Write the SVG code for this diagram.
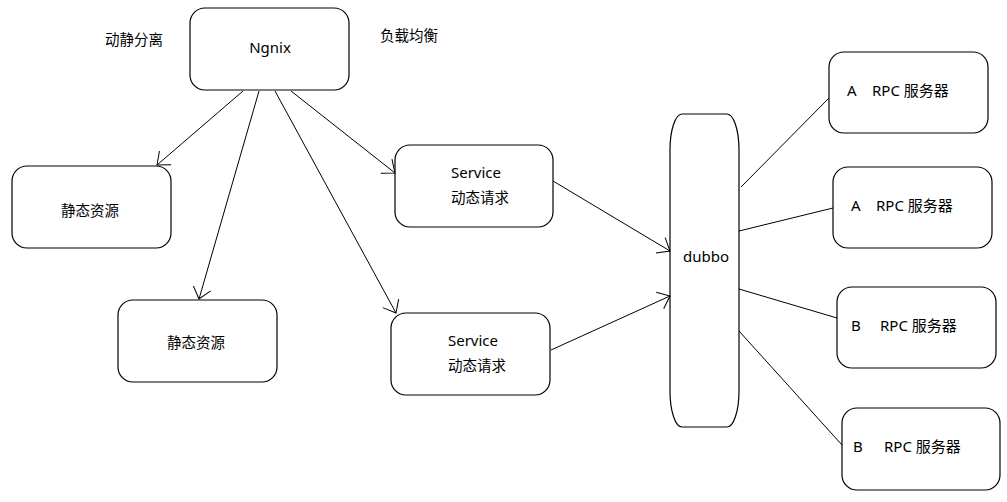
<svg xmlns="http://www.w3.org/2000/svg" width="1007" height="502" viewBox="0 0 1007 502">
<style>
.box{fill:#fff;stroke:#000;stroke-width:1.2}
.ln{stroke:#000;stroke-width:1;fill:none}
text{font-family:"Noto Sans CJK SC","Noto Sans",sans-serif;font-size:14.5px;fill:#000}
.en{font-family:"Noto Sans","Noto Sans CJK SC",sans-serif;font-size:15px}
.c{text-anchor:middle}
</style>
<defs>
<marker id="arr" markerUnits="userSpaceOnUse" markerWidth="30" markerHeight="30" refX="15" refY="15" orient="auto" viewBox="0 0 30 30">
<path d="M4,6 L15,15 L4,24" fill="none" stroke="#000" stroke-width="1"/>
</marker>
</defs>
<rect width="1007" height="502" fill="#fff"/>
<g id="labels">
<text x="105" y="45">动静分离</text>
<text x="380" y="41">负载均衡</text>
</g>
<g id="ngnix"><rect class="box" x="190" y="8" width="159" height="82" rx="15"/><text class="en c" x="270" y="53">Ngnix</text></g>
<g id="static1"><rect class="box" x="12" y="166" width="159" height="82" rx="15"/><text class="c" x="90" y="216">静态资源</text></g>
<g id="static2"><rect class="box" x="118" y="300" width="159" height="82" rx="15"/><text class="c" x="196" y="348">静态资源</text></g>
<g id="service1"><rect class="box" x="395" y="145" width="158" height="82" rx="15"/><text class="en c" x="476" y="178">Service</text><text class="c" x="480" y="203">动态请求</text></g>
<g id="service2"><rect class="box" x="391" y="313" width="159" height="82" rx="15"/><text class="en c" x="473" y="346">Service</text><text class="c" x="477" y="371">动态请求</text></g>
<g id="dubbo"><path class="box" d="M682,114 H727 A12,36 0 0 1 739,150 V391 A12,36 0 0 1 727,427 H682 A12,36 0 0 1 670,391 V150 A12,36 0 0 1 682,114 Z"/><text class="en c" x="706" y="262">dubbo</text></g>
<g id="rpc1"><rect class="box" x="829" y="52" width="159" height="81" rx="15"/><text class="en" y="96"><tspan x="847">A</tspan><tspan x="872">RPC 服务器</tspan></text></g>
<g id="rpc2"><rect class="box" x="833" y="167" width="159" height="81" rx="15"/><text class="en" y="211"><tspan x="851">A</tspan><tspan x="876">RPC 服务器</tspan></text></g>
<g id="rpc3"><rect class="box" x="837" y="287" width="159" height="81" rx="15"/><text class="en" y="331"><tspan x="851">B</tspan><tspan x="880">RPC 服务器</tspan></text></g>
<g id="rpc4"><rect class="box" x="842" y="408" width="158" height="82" rx="15"/><text class="en" y="452"><tspan x="853">B</tspan><tspan x="884">RPC 服务器</tspan></text></g>
<g id="connectors">
<line class="ln" x1="243" y1="91" x2="157" y2="165" marker-end="url(#arr)"/>
<line class="ln" x1="259" y1="91" x2="199" y2="299" marker-end="url(#arr)"/>
<line class="ln" x1="275" y1="91" x2="396" y2="313" marker-end="url(#arr)"/>
<line class="ln" x1="291" y1="91" x2="395" y2="173" marker-end="url(#arr)"/>
<line class="ln" x1="553" y1="181" x2="670" y2="251" marker-end="url(#arr)"/>
<line class="ln" x1="551" y1="350" x2="670" y2="296" marker-end="url(#arr)"/>
<line class="ln" x1="741" y1="187" x2="829" y2="98"/>
<line class="ln" x1="739" y1="231" x2="833" y2="208"/>
<line class="ln" x1="739" y1="289" x2="837" y2="318"/>
<line class="ln" x1="739" y1="331" x2="842" y2="445"/>
</g>
</svg>
